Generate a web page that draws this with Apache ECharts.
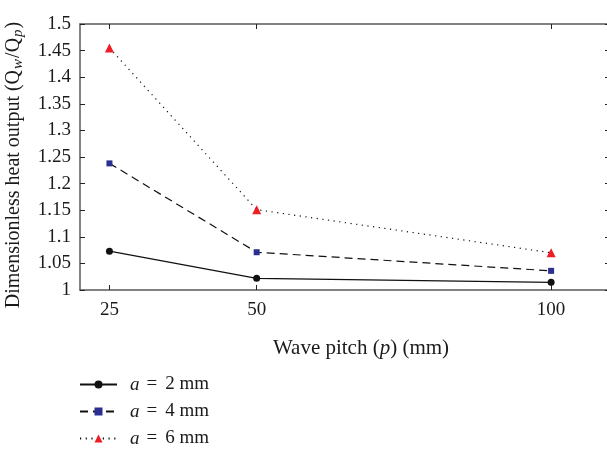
<!DOCTYPE html>
<html><head><meta charset="utf-8">
<script src="https://cdn.jsdelivr.net/npm/echarts@6/dist/echarts.min.js"></script>
<style>html,body{margin:0;padding:0;background:#fff}#c{width:607px;height:451px}</style>
</head><body><div id="c"></div>
<script>
const pitches = [25, 50, 100];
const a2 = [1.073, 1.022, 1.0145];
const a4 = [1.238, 1.071, 1.036];
const a6 = [1.455, 1.151, 1.070];
const seriesNames = ['a = 2 mm', 'a = 4 mm', 'a = 6 mm'];
const xTicks = [25, 50, 100];

const font = 'Liberation Serif';
const chart = echarts.init(document.getElementById('c'));
const pair = v => pitches.map((p, i) => [p, v[i]]);
const axisCol = '#5a5a5a';
const txt = '#1a1a1a';
chart.setOption({
  animation: false,
  grid: {left: 80, top: 24, width: 530, height: 266, outerBoundsMode: 'none', containLabel: false},
  xAxis: [{
    type: 'value', min: 20, max: 110,
    axisLine: {lineStyle: {color: axisCol, width: 1.5}},
    axisTick: {inside: true, length: 5, customValues: xTicks, lineStyle: {color: '#222'}},
    axisLabel: {customValues: xTicks, margin: 11, color: txt, fontFamily: font, fontSize: 19},
    splitLine: {show: false},
    name: 'Wave pitch ({i|p}) (mm)', nameLocation: 'middle', nameGap: 48,
    nameTextStyle: {color: txt, fontFamily: font, fontSize: 21, padding: [0, 0, 0, 32],
      rich: {i: {fontStyle: 'italic', fontFamily: font, fontSize: 21, color: txt}}}
  }, {
    type: 'value', min: 20, max: 110, position: 'top',
    axisLine: {lineStyle: {color: axisCol, width: 1.5}},
    axisTick: {inside: true, length: 5, customValues: xTicks, lineStyle: {color: '#222'}},
    axisLabel: {show: false}, splitLine: {show: false}
  }],
  yAxis: [{
    type: 'value', min: 1, max: 1.5, interval: 0.05,
    axisLine: {show: true, lineStyle: {color: axisCol, width: 1.5}},
    axisTick: {show: true, inside: true, length: 5, lineStyle: {color: '#222'}},
    axisLabel: {margin: 9, color: txt, fontFamily: font, fontSize: 19,
      formatter: v => String(+v.toFixed(2))},
    splitLine: {show: false},
    name: 'Dimensionless heat output (Q{s|w}/Q{s|p})', nameLocation: 'middle', nameGap: 54,
    nameTextStyle: {color: txt, fontFamily: font, fontSize: 20, padding: [0, 16, 0, 0],
      rich: {s: {fontStyle: 'italic', fontFamily: font, fontSize: 15, color: txt, padding: [9, 1, 0, 1]}}}
  }, {
    type: 'value', min: 1, max: 1.5, interval: 0.05, position: 'right',
    axisLine: {show: true, lineStyle: {color: axisCol, width: 1.5}},
    axisTick: {show: true, inside: true, length: 5, lineStyle: {color: '#222'}},
    axisLabel: {show: false}, splitLine: {show: false}
  }],
  legend: {
    orient: 'vertical', left: 79, top: 375, padding: 0, itemWidth: 37, itemHeight: 10, itemGap: 8,
    height: 90,
    data: seriesNames,
    formatter: n => '{i|a}{e|=}' + n.slice(4),
    textStyle: {color: txt, fontFamily: font, fontSize: 19, padding: [0, 0, 0, 8],
      rich: {i: {fontStyle: 'italic', fontFamily: font, fontSize: 19, color: txt},
             e: {fontFamily: font, fontSize: 19, color: txt, padding: [0, 8, 0, 7]}}}
  },
  series: [{
    name: seriesNames[0], type: 'line', data: pair(a2),
    symbol: 'circle', symbolSize: 7, itemStyle: {color: '#111'},
    lineStyle: {color: '#111', width: 1.2, type: 'solid'}
  }, {
    name: seriesNames[1], type: 'line', data: pair(a4),
    symbol: 'rect', symbolSize: 6, itemStyle: {color: '#2b2f8f'},
    lineStyle: {color: '#111', width: 1.2, type: [8, 5]}
  }, {
    name: seriesNames[2], type: 'line', data: pair(a6),
    symbol: 'triangle', symbolSize: 9, itemStyle: {color: '#ee1c25'},
    lineStyle: {color: '#111', width: 1.2, type: [1.2, 4.5]}
  }]
});
</script></body></html>
